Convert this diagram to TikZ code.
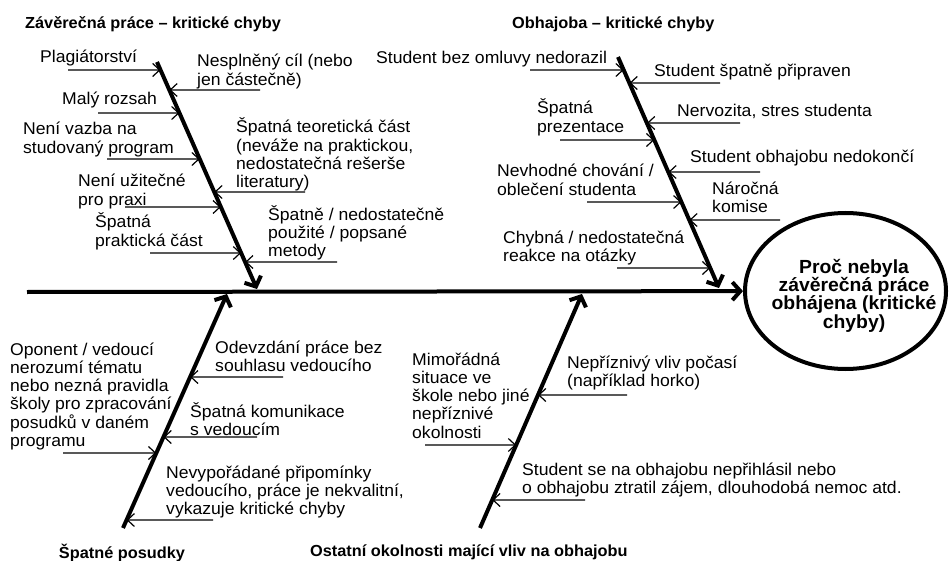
\documentclass[tikz,border=0pt]{standalone}
\usepackage{fontspec}
\setmainfont{Liberation Sans}[FakeStretch=1.035]
\newfontfamily\headfont{Liberation Sans}[FakeStretch=1.02]
\usetikzlibrary{arrows.meta,shapes.geometric}

\tikzset{
  bone/.style={line width=4pt, -{Straight Barb[length=8pt,width=18pt]}},
  twig/.style={line width=1.2pt, -{Straight Barb[length=7pt,width=13pt]}},
  % placed by the baseline of the last line
  cause/.style={anchor=base west, align=left, inner sep=0pt,
    font=\fontsize{17}{18.3}\selectfont},
  heading/.style={anchor=base west, inner sep=0pt,
    font=\headfont\bfseries\fontsize{16}{18}\selectfont},
  goalbox/.style={ellipse, draw, line width=4pt,
    minimum width=201pt, minimum height=156pt},
  goaltext/.style={anchor=base, align=center, inner sep=0pt,
    font=\headfont\bfseries\fontsize{19}{18.3}\selectfont},
}

% a small cause arrow: name, start x, height, bone it points to
\newcommand\twig[4]{%
  \coordinate (#1s) at (#2,#3);
  \coordinate (#1e) at (intersection of #4a--#4b and 0,#3--1,#3);
  \draw[twig] (#1s) -- (#1e);}

\begin{document}
\begin{tikzpicture}[x=1pt,y=-1pt]
\useasboundingbox (0,0) rectangle (949,561);

% effect
\node[goalbox] (goal) at (845.5,291) {};
\node[goaltext] (goalt) at (854,328)
  {Proč nebyla\\závěrečná práce\\obhájena (kritické\\chyby)};

% main spine
\coordinate (M0) at (27,292);
\draw[bone] (M0) -- (goal);

% bones
\coordinate (Aa) at (157,62);  \coordinate (Ab) at (257,289);
\coordinate (Ba) at (618,57);  \coordinate (Bb) at (719,288);
\coordinate (Ca) at (123,528); \coordinate (Cb) at (227,294);
\coordinate (Da) at (480,528); \coordinate (Db) at (582,294);
\draw[bone] (Aa) -- (Ab);
\draw[bone] (Ba) -- (Bb);
\draw[bone] (Ca) -- (Cb);
\draw[bone] (Da) -- (Db);

% headings
\node[heading] (hA) at (25,29) {Závěrečná práce – kritické chyby};
\node[heading] (hB) at (512,29) {Obhajoba – kritické chyby};
\node[heading,anchor=base] (hC) at (122,558) {Špatné posudky};
\node[heading] (hD) at (310,556) {Ostatní okolnosti mající vliv na obhajobu};

% bone A: thesis
\node[cause] (a1) at (40,63) {Plagiátorství};
\node[cause] (a2) at (62,105) {Malý rozsah};
\node[cause] (a3) at (23,153.3) {Není vazba na\\studovaný program};
\node[cause] (a4) at (78,205.3) {Není užitečné\\pro praxi};
\node[cause] (a5) at (95,246.3) {Špatná\\praktická část};
\node[cause] (a6) at (197,85.3) {Nesplněný cíl (nebo\\jen částečně)};
\node[cause] (a7) at (236,187.9) {Špatná teoretická část\\(neváže na praktickou,\\nedostatečná rešerše\\literatury)};
\node[cause] (a8) at (268,256.6) {Špatně / nedostatečně\\použité / popsané\\metody};
\twig{ta1}{68}{70}{A}
\twig{ta2}{98}{113}{A}
\twig{ta3}{107}{159}{A}
\twig{ta4}{125}{207}{A}
\twig{ta5}{150}{253}{A}
\twig{ta6}{260}{90}{A}
\twig{ta7}{305}{192}{A}
\twig{ta8}{337}{262}{A}

% bone B: defence
\node[cause] (b1) at (376,64) {Student bez omluvy nedorazil};
\node[cause] (b2) at (537,132.3) {Špatná\\prezentace};
\node[cause] (b3) at (497,195.3) {Nevhodné chování /\\oblečení studenta};
\node[cause] (b4) at (503,261.3) {Chybná / nedostatečná\\reakce na otázky};
\node[cause] (b5) at (654,77) {Student špatně připraven};
\node[cause] (b6) at (677,117) {Nervozita, stres studenta};
\node[cause] (b7) at (690,163) {Student obhajobu nedokončí};
\node[cause] (b8) at (712,213) {Náročná\\komise};
\twig{tb1}{530}{70}{B}
\twig{tb2}{560}{140}{B}
\twig{tb3}{587}{202}{B}
\twig{tb4}{617}{268}{B}
\twig{tb5}{720}{83}{B}
\twig{tb6}{740}{123}{B}
\twig{tb7}{760}{172}{B}
\twig{tb8}{780}{220}{B}

% bone C: reviews
\node[cause] (c1) at (10,446.5) {Oponent / vedoucí\\nerozumí tématu\\nebo nezná pravidla\\školy pro zpracování\\posudků v daném\\programu};
\node[cause] (c2) at (215,371.3) {Odevzdání práce bez\\souhlasu vedoucího};
\node[cause] (c3) at (190,435.3) {Špatná komunikace\\s vedoucím};
\node[cause] (c4) at (166,514.6) {Nevypořádané připomínky\\vedoucího, práce je nekvalitní,\\vykazuje kritické chyby};
\twig{tc1}{63}{453}{C}
\twig{tc2}{283}{377}{C}
\twig{tc3}{257}{437}{C}
\twig{tc4}{213}{520}{C}

% bone D: other circumstances
\node[cause] (d1) at (412,438.2) {Mimořádná\\situace ve\\škole nebo jiné\\nepříznivé\\okolnosti};
\node[cause] (d2) at (567,386.3) {Nepříznivý vliv počasí\\(například horko)};
\node[cause] (d3) at (522,493.3) {Student se na obhajobu nepřihlásil nebo\\o obhajobu ztratil zájem, dlouhodobá nemoc atd.};
\twig{td1}{425}{445}{D}
\twig{td2}{627}{395}{D}
\twig{td3}{585}{500}{D}
\end{tikzpicture}
\end{document}
